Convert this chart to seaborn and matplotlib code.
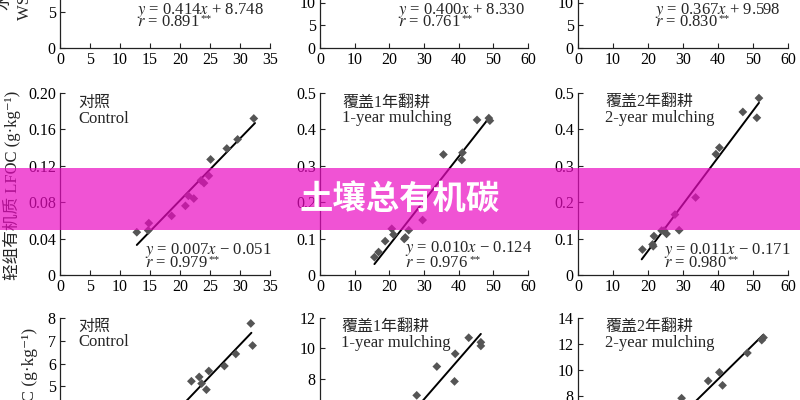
import matplotlib
matplotlib.use("Agg")
import matplotlib.pyplot as plt
import seaborn as sns
from matplotlib.patches import Rectangle

sns.set_style("ticks")
plt.rcParams['font.family'] = ['Liberation Serif', 'Noto Sans CJK SC', 'DejaVu Serif']
plt.rcParams['mathtext.fontset'] = 'stix'

# treatments (columns)
treat_cn = ["对照", "覆盖1年翻耕", "覆盖2年翻耕"]
treat_en = ["Control", "1-year mulching", "2-year mulching"]

# top row: WSOC, only the equations are inside the crop
wsoc_slope = [0.414, 0.400, 0.367]
wsoc_icpt = [8.748, 8.330, 9.598]
wsoc_r = [0.891, 0.761, 0.830]

# middle row: LFOC
lfoc_slope = [0.007, 0.010, 0.011]
lfoc_icpt = [-0.051, -0.124, -0.171]
lfoc_r = [0.979, 0.976, 0.980]

ctrl_lfoc_x = [12.8, 14.8, 14.7, 18.6, 20.9, 21.4, 22.3, 23.5, 24.0, 24.8, 25.1, 27.8, 29.6, 32.3]
ctrl_lfoc_y = [0.047, 0.057, 0.049, 0.065, 0.076, 0.087, 0.084, 0.104, 0.101, 0.109, 0.127, 0.139, 0.149, 0.172]
m1_lfoc_x = [15.7, 16.9, 18.8, 20.7, 21.2, 24.3, 24.6, 25.6, 29.6, 35.6, 40.9, 41.1, 45.3, 48.7, 49.0]
m1_lfoc_y = [0.049, 0.063, 0.093, 0.127, 0.111, 0.099, 0.103, 0.123, 0.151, 0.331, 0.316, 0.336, 0.426, 0.431, 0.424]
m2_lfoc_x = [18.4, 21.3, 21.7, 21.5, 23.9, 24.6, 25.3, 27.7, 28.9, 33.6, 39.4, 40.4, 47.1, 51.1, 51.7]
m2_lfoc_y = [0.070, 0.084, 0.107, 0.079, 0.122, 0.122, 0.113, 0.166, 0.123, 0.213, 0.332, 0.350, 0.448, 0.432, 0.486]

ctrl_lfoc_line = ([12.8, 32.5], [0.033, 0.167])
m1_lfoc_line = ([15.7, 48.8], [0.030, 0.432])
m2_lfoc_line = ([18.2, 51.7], [0.043, 0.473])

# bottom row: SOC (only the upper part is inside the crop)
ctrl_soc_x = [21.9, 23.2, 23.6, 24.4, 24.8, 27.4, 29.3, 31.8, 32.1]
ctrl_soc_y = [5.22, 5.41, 5.12, 4.85, 5.67, 5.89, 6.42, 7.76, 6.79]
m1_soc_x = [27.9, 33.7, 38.8, 39.0, 42.9, 46.4, 46.4]
m1_soc_y = [6.90, 8.80, 7.82, 9.64, 10.70, 10.40, 10.16]
m2_soc_x = [29.6, 37.2, 40.4, 41.3, 48.4, 52.5, 53.0]
m2_soc_y = [7.83, 9.16, 9.82, 8.82, 11.31, 12.30, 12.49]

ctrl_soc_line = ([12.0, 31.9], [1.85, 7.35])
m1_soc_line = ([15.0, 46.4], [2.70, 10.95])
m2_soc_line = ([17.0, 52.9], [3.20, 12.70])

W, H = 800, 400


def fx(px):
    return px / W


def fy(py):
    return 1 - py / H


def rect(l, t, r, b):
    return [l / W, 1 - b / H, (r - l) / W, (b - t) / H]


fig = plt.figure(figsize=(8, 4), dpi=100)
renderer = fig.canvas.get_renderer()

col_px = [(60, 270), (320, 528), (578, 788)]
row_px = [(-134, 48), (93, 275), (318, 500)]
xmax = [35, 60, 60]
xstep = [5, 10, 10]

ylims = [[25, 40, 40], [0.2, 0.5, 0.5], [8, 12, 14]]
yticks = [
    [list(range(0, 26, 5)), list(range(0, 41, 5)), list(range(0, 41, 5))],
    [[0, 0.04, 0.08, 0.12, 0.16, 0.20], [0, 0.1, 0.2, 0.3, 0.4, 0.5], [0, 0.1, 0.2, 0.3, 0.4, 0.5]],
    [list(range(0, 9)), list(range(0, 13, 2)), list(range(0, 15, 2))],
]
ylabels_mid = [["0", "0.04", "0.08", "0.12", "0.16", "0.20"],
               ["0", "0.1", "0.2", "0.3", "0.4", "0.5"],
               ["0", "0.1", "0.2", "0.3", "0.4", "0.5"]]

pts = {
    1: [(ctrl_lfoc_x, ctrl_lfoc_y), (m1_lfoc_x, m1_lfoc_y), (m2_lfoc_x, m2_lfoc_y)],
    2: [(ctrl_soc_x, ctrl_soc_y), (m1_soc_x, m1_soc_y), (m2_soc_x, m2_soc_y)],
}
lines = {
    1: [ctrl_lfoc_line, m1_lfoc_line, m2_lfoc_line],
    2: [ctrl_soc_line, m1_soc_line, m2_soc_line],
}

for r in range(3):
    for c in range(3):
        l, rr = col_px[c]
        t, b = row_px[r]
        ax = fig.add_axes(rect(l, t, rr, b))
        if r in pts:
            x, y = pts[r][c]
            sns.scatterplot(x=x, y=y, marker='D', color='#555555', s=20,
                            edgecolor='none', ax=ax, zorder=3)
            lx, ly = lines[r][c]
            sns.lineplot(x=lx, y=ly, color='black', lw=1.4, ax=ax, zorder=2)
        ax.set_xlim(0, xmax[c])
        ax.set_ylim(0, ylims[r][c])
        ax.set_xticks(range(0, xmax[c] + 1, xstep[c]))
        if r == 1:
            ax.set_yticks(yticks[r][c], ylabels_mid[c])
        else:
            ax.set_yticks(yticks[r][c])
        sns.despine(ax=ax)
        for s in ['left', 'bottom']:
            ax.spines[s].set_linewidth(0.9)
            ax.spines[s].set_color('#222222')
        ax.tick_params(direction='in', length=3.5, width=0.8, pad=3,
                       labelsize=11.5, colors='#222222', labelcolor='black')
        ax.set_xlabel('')
        ax.set_ylabel('')


def put_eq(px, y1, y2, a, b, r):
    sign = '+' if b >= 0 else '\u2212'
    fig.text(fx(px), fy(y1), f"$y$ = {a:.3f}$x$ {sign} {abs(b):.3f}",
             fontsize=12, ha='left', va='center')
    t = fig.text(fx(px), fy(y2), f"$r$ = {r:.3f}", fontsize=12, ha='left', va='center')
    bb = t.get_window_extent(renderer)
    fig.text(bb.x1 / W + 1 / W, fy(y2) + 3 / H, "**", fontsize=8, ha='left', va='center')


# top row equations
top_eq_pos = [(137, 10, 22), (398, 10, 22), (655, 10, 22)]
for c, (px, y1, y2) in enumerate(top_eq_pos):
    put_eq(px, y1, y2, wsoc_slope[c], wsoc_icpt[c], wsoc_r[c])

# middle row labels and equations
mid_lab_pos = [(78, 103, 119), (342, 103, 118), (605, 102, 118)]
mid_eq_pos = [(145, 250, 263), (405, 248, 263), (664, 250, 263)]
for c in range(3):
    px, y1, y2 = mid_lab_pos[c]
    fig.text(fx(px), fy(y1), treat_cn[c], fontsize=11.5, ha='left', va='center')
    fig.text(fx(px), fy(y2), treat_en[c], fontsize=12, ha='left', va='center')
    px, y1, y2 = mid_eq_pos[c]
    put_eq(px, y1, y2, lfoc_slope[c], lfoc_icpt[c], lfoc_r[c])

# bottom row labels
bot_lab_pos = [(78, 327, 342), (341, 327, 343), (605, 327, 343)]
for c in range(3):
    px, y1, y2 = bot_lab_pos[c]
    fig.text(fx(px), fy(y1), treat_cn[c], fontsize=11.5, ha='left', va='center')
    fig.text(fx(px), fy(y2), treat_en[c], fontsize=12, ha='left', va='center')

# y axis titles
fig.text(fx(4), fy(10), "水溶性有机碳", rotation=90, fontsize=12, ha='center', va='bottom')
fig.text(fx(25), fy(20), "WSOC (g·kg⁻¹)", rotation=90, fontsize=12, ha='center', va='bottom')
fig.text(fx(12), fy(185), "轻组有机质 LFOC (g·kg⁻¹)", rotation=90, fontsize=12,
         ha='center', va='center')
fig.text(fx(30), fy(328), "SOC (g·kg⁻¹)", rotation=90, fontsize=12.5, ha='center', va='top')

# banner
fig.patches.append(Rectangle((0, fy(230)), 1, (230 - 168) / H, transform=fig.transFigure,
                             facecolor='#EB0AC2', edgecolor='none', alpha=0.7, zorder=10))
fig.text(0.5, fy(200), "土壤总有机碳", family=['Noto Sans CJK SC'], fontweight='bold',
         fontsize=24, color='white', ha='center', va='center', zorder=11)

fig.savefig("out.png", dpi=100)
